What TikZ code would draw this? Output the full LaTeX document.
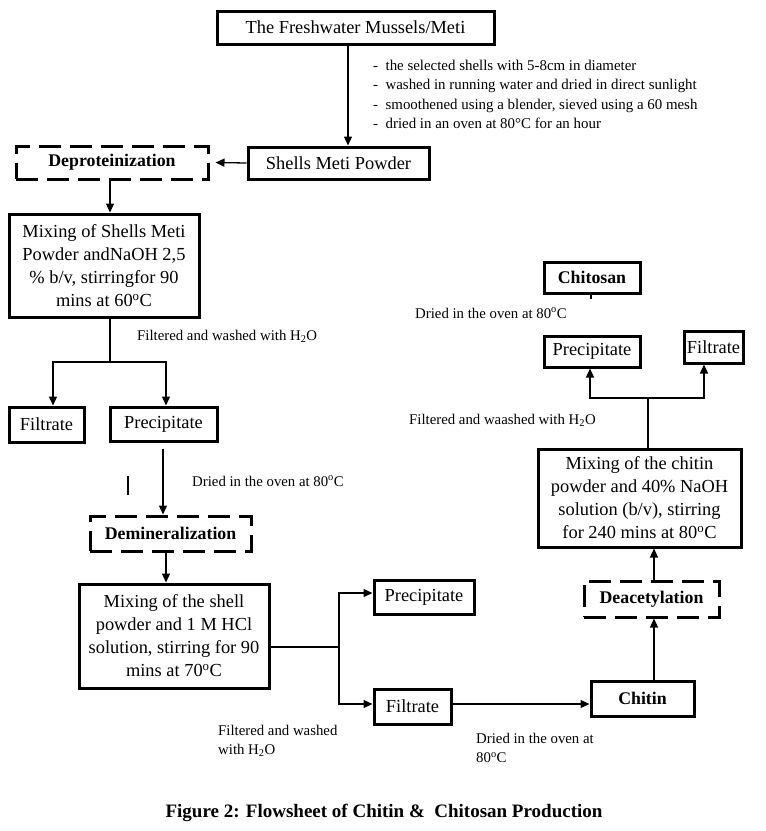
\documentclass[tikz,border=0pt]{standalone}
\usepackage{fontspec}
\setmainfont{Liberation Serif}
\usetikzlibrary{arrows.meta}
\begin{document}
\begin{tikzpicture}[x=1pt,y=-1pt,
 box/.style={draw, line width=3pt, inner sep=0pt, align=center, font=\fontsize{18.4}{23}\selectfont},
 bbox/.style={box, font=\fontsize{17.8}{21}\selectfont\bfseries},
 dbox/.style={bbox, dash pattern=on 22pt off 9pt},
 lbl/.style={inner sep=0pt, anchor=west, align=left, font=\fontsize{14.8}{19.5}\selectfont},
 conn/.style={line width=1.3pt},
 arr/.style={conn, -{Triangle[length=9pt,width=8pt]}}
]
\useasboundingbox (0,0) rectangle (766,831);
% nodes
\node[box, minimum width=277pt, minimum height=33pt] (title) at (355.5,27.5) {The Freshwater Mussels/Meti};
\node[lbl, font=\fontsize{14.9}{19.5}\selectfont] (notes) at (373,94.5) {-\ \ the selected shells with 5-8cm in diameter\\-\ \ washed in running water and dried in direct sunlight\\-\ \ smoothened using a blender, sieved using a 60 mesh\\-\ \ dried in an oven at 80°C for an hour};
\node[box, minimum width=181pt, minimum height=32pt] (shells) at (338.5,163) {Shells Meti Powder};
\node[dbox, minimum width=192pt, minimum height=33pt] (deprot) at (112,162.5) {Deproteinization};
\node[box, minimum width=190pt, minimum height=103pt] (mix1) at (104,265.5) {Mixing of Shells Meti\\Powder andNaOH 2,5\\\% b/v, stirringfor 90\\mins at 60\textsuperscript{o}C};
\node[lbl] (l1) at (137,336) {Filtered and washed with H\textsubscript{2}O};
\node[box, minimum width=75pt, minimum height=35pt] (filt1) at (46.5,424.5) {Filtrate};
\node[box, minimum width=107pt, minimum height=34pt] (prec1) at (163.5,424) {Precipitate};
\node[lbl] (l2) at (192,481) {Dried in the oven at 80\textsuperscript{o}C};
\node[dbox, minimum width=161pt, minimum height=35pt] (demin) at (170.5,533.5) {Demineralization};
\node[box, minimum width=190pt, minimum height=104pt] (mix2) at (174,636) {Mixing of the shell\\powder and 1 M HCl\\solution, stirring for 90\\mins at 70\textsuperscript{o}C};
\node[box, minimum width=100pt, minimum height=34pt] (prec2) at (424,597) {Precipitate};
\node[box, minimum width=77pt, minimum height=35pt] (filt2) at (412.5,706.5) {Filtrate};
\node[lbl] (l3) at (218,741) {Filtered and washed\\with H\textsubscript{2}O};
\node[bbox, minimum width=103pt, minimum height=35pt] (chitin) at (642.5,698.5) {Chitin};
\node[lbl] (l4) at (476,748) {Dried in the oven at\\80\textsuperscript{o}C};
\node[dbox, minimum width=135pt, minimum height=36pt] (deac) at (651.5,599) {Deacetylation};
\node[box, minimum width=203pt, minimum height=98pt] (mix3) at (639.5,498) {Mixing of the chitin\\powder and 40\% NaOH\\solution (b/v), stirring\\for 240 mins at 80\textsuperscript{o}C};
\node[lbl] (l5) at (409,420) {Filtered and waashed with H\textsubscript{2}O};
\node[box, minimum width=96pt, minimum height=31pt] (prec3) at (592,351.5) {Precipitate};
\node[box, minimum width=59pt, minimum height=32pt] (filt3) at (713.5,347) {Filtrate};
\node[lbl] (l6) at (415,313) {Dried in the oven at 80\textsuperscript{o}C};
\node[bbox, minimum width=96pt, minimum height=31pt] (chitosan) at (592,277.5) {Chitosan};
\node[inner sep=0pt, font=\fontsize{19}{22}\selectfont\bfseries] (cap) at (384,813) {Figure 2: Flowsheet of Chitin \&\ \ Chitosan Production};
% connectors
\draw[arr] (348,0 |- title.south) -- (348,0 |- shells.north);
\draw[arr] (shells.west) -- ([xshift=6pt]deprot.east);
\draw[arr] (110,0 |- deprot.south) -- (110,0 |- mix1.north);
\coordinate (b1) at (110,362);
\draw[conn] (110,0 |- mix1.south) -- (b1);
\draw[arr] (b1) -- (53,362) -- (53,0 |- filt1.north);
\draw[arr] (b1) -- (166,362) -- (166,0 |- prec1.north);
\draw[arr] ([yshift=-6pt]163,0 |- prec1.south) -- (163,0 |- demin.north);
\draw[line width=1.6pt] (128,476) -- (128,495);
\draw[arr] (166,0 |- demin.south) -- (166,0 |- mix2.north);
\coordinate (b2) at (339,647);
\draw[conn] (mix2.east |- b2) -- (b2);
\draw[arr] (b2) -- (339,593) -- (prec2.west |- 0,593);
\draw[arr] (b2) -- (339,704) -- (filt2.west |- 0,704);
\draw[arr] (filt2.east |- 0,704) -- (chitin.west |- 0,704);
\draw[arr] (654,0 |- chitin.north) -- (654,0 |- deac.south);
\draw[arr] (654,0 |- deac.north) -- (654,0 |- mix3.south);
\coordinate (b3) at (648,398);
\draw[conn] (648,0 |- mix3.north) -- (b3);
\draw[arr] (b3) -- (590,398) -- (590,0 |- prec3.south);
\draw[arr] (b3) -- (704,398) -- (704,0 |- filt3.south);
\draw[conn] (591,0 |- chitosan.south) -- ++(0,4);
\end{tikzpicture}
\end{document}
